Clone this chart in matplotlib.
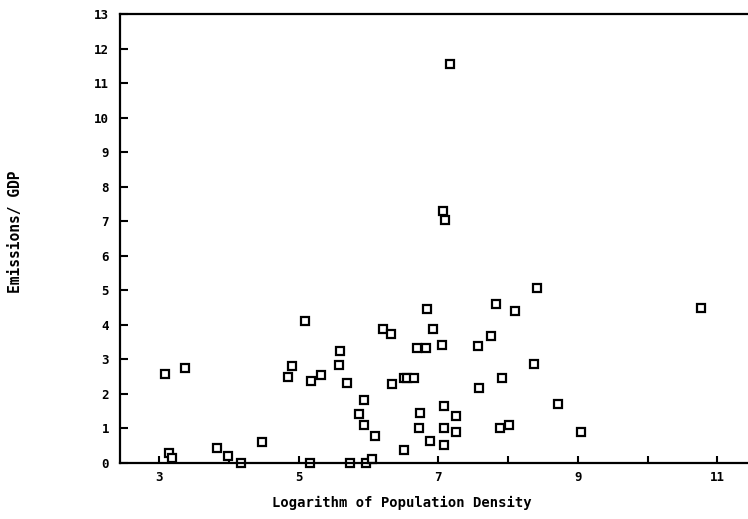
import matplotlib
matplotlib.use('agg')
import matplotlib.pyplot as plt

# log population density vs emissions/GDP
density = [3.09, 3.37, 3.14, 3.18, 3.83, 3.99, 4.18, 4.47, 4.85, 4.90,
           5.09, 5.16, 5.18, 5.32, 5.58, 5.59, 5.70, 5.74, 5.87, 5.93,
           5.94, 5.97, 6.05, 6.09, 6.21, 6.33, 6.34, 6.51, 6.51, 6.56,
           6.65, 6.69, 6.74, 6.72, 6.82, 6.84, 6.88, 6.93, 7.05, 7.09,
           7.09, 7.09, 7.25, 7.25, 7.57, 7.59, 7.76, 7.83, 7.89, 7.91,
           8.01, 8.10, 8.37, 8.71, 9.04, 10.77, 8.41, 7.07, 7.10, 7.17]
emissions = [2.59, 2.76, 0.29, 0.15, 0.44, 0.19, 0.00, 0.60, 2.50, 2.81,
             4.10, 0.00, 2.38, 2.54, 2.84, 3.23, 2.32, 0.00, 1.42, 1.81,
             1.11, 0.00, 0.12, 0.77, 3.89, 3.74, 2.30, 0.39, 2.45, 2.47,
             2.47, 3.33, 1.45, 1.02, 3.33, 4.47, 0.63, 3.87, 3.41, 1.65,
             1.02, 0.53, 1.37, 0.90, 3.39, 2.18, 3.68, 4.60, 1.02, 2.47,
             1.11, 4.40, 2.86, 1.71, 0.90, 4.49, 5.08, 7.30, 7.04, 11.54]

xticks = [3, 4, 5, 6, 7, 8, 9, 10, 11]
xlabels = ['3', '', '5', '', '7', '', '9', '', '11']
yticks = list(range(0, 14))

fnt = dict(family='DejaVu Sans Mono', weight='bold')

fig = plt.figure(figsize=(7.48, 5.19), dpi=100)
ax = fig.add_axes([120/748, 1 - 463/519, 1 - 120/748, (463 - 14)/519])

ax.plot(density, emissions, linestyle='none', marker='s', markersize=6,
        markerfacecolor='white', markeredgecolor='black', markeredgewidth=1.6,
        clip_on=False)

ax.set_xlim(2.44, 11.44)
ax.set_ylim(0, 13)
ax.set_xticks(xticks)
ax.set_xticklabels(xlabels, fontsize=9, **fnt)
ax.set_yticks(yticks)
ax.set_yticklabels([str(t) for t in yticks], fontsize=9, **fnt)
ax.tick_params(axis='both', direction='in', width=1.5, color='black')
ax.tick_params(axis='y', length=6, pad=8)
ax.tick_params(axis='x', length=5, pad=6)

for s in ['left', 'bottom', 'top']:
    ax.spines[s].set_linewidth(1.6)
ax.spines['right'].set_visible(False)

fig.text(402/748, 1 - 503/519, 'Logarithm of Population Density',
         ha='center', va='center', fontsize=10, **fnt)
fig.text(16/748, 1 - 232/519, 'Emissions/ GDP', rotation=90,
         ha='center', va='center', fontsize=10.5, **fnt)

fig.savefig('out.png', dpi=100)
